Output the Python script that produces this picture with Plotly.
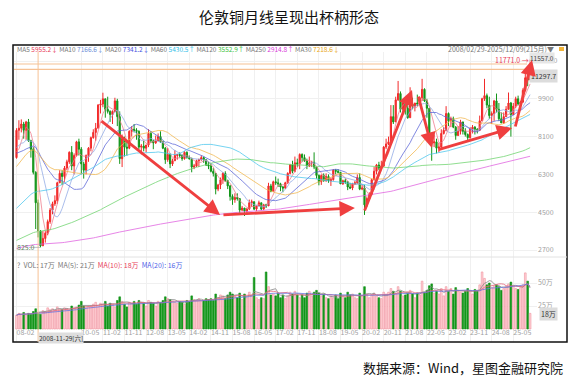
import numpy as np
import pandas as pd
import plotly.graph_objects as go

# ---------------- data ----------------
MONTHS = [str(p) for p in pd.period_range('2008-02', '2025-12', freq='M')]

# monthly closes before the visible window (1987-05 .. 2008-01), used only for the long moving averages
PRE_CLOSE = [1550, 1580, 1700, 1700, 1750, 1900, 2100, 2600,
             2300, 2200, 2200, 2400, 2300, 2400, 2600, 2800, 2900, 3300, 3200, 3400,
             3200, 3100, 3000, 2900, 3100, 3000, 2700, 2900, 3100, 2900, 2600, 2500,
             2300, 2400, 2700, 2900, 2800, 2700, 2900, 3000, 3100, 2700, 2700, 2600,
             2600, 2500, 2500, 2500, 2400, 2300, 2300, 2300, 2400, 2400, 2300, 2200,
             2200, 2250, 2300, 2300, 2300, 2400, 2600, 2500, 2350, 2200, 2150, 2250,
             2300, 2300, 2200, 2000, 1900, 1950, 2050, 1950, 1850, 1650, 1700, 1750,
             1900, 1900, 1950, 1950, 2150, 2450, 2450, 2450, 2500, 2550, 2800, 3000,
             2900, 2900, 2850, 2850, 2850, 3050, 3050, 2950, 2850, 2800, 3000, 2800,
             2550, 2500, 2550, 2600, 2600, 1950, 2000, 2000, 1900, 2050, 2300, 2200,
             2350, 2400, 2400, 2400, 2550, 2650, 2400, 2250, 2150, 2000, 1900, 1750,
             1700, 1650, 1750, 1800, 1700, 1650, 1650, 1600, 1650, 1600, 1550, 1450,
             1450, 1400, 1380, 1450, 1400, 1450, 1650, 1700, 1750, 1750, 1750, 1800,
             1850, 1800, 1750, 1750, 1800, 1750, 1800, 1900, 1950, 1850, 1750, 1800,
             1800, 1750, 1700, 1650, 1600, 1550, 1450, 1450, 1400, 1380, 1500, 1470,
             1550, 1600, 1620, 1580, 1630, 1630, 1500, 1480, 1450, 1520, 1600, 1560,
             1680, 1680, 1590, 1610, 1700, 1650, 1740, 1770, 1790, 2050, 2050, 2300,
             2500, 2800, 3000, 2700, 2800, 2700, 2900, 2850, 3150, 2950, 3250, 3200,
             3200, 3350, 3400, 3350, 3350, 3600, 3800, 3800, 3950, 4100, 4400, 4650,
             4800, 5000, 5500, 7000, 7400, 7300, 7700, 7500, 7600, 7450, 6950, 6300,
             5700, 6400, 6900, 7800, 7700, 7500, 8100, 7500, 8100, 7900, 6900, 6700,
             7000]

OPEN = [7100, 8400, 8500, 8700, 8400, 8800, 7900, 7500, 6400, 4950, 3600,
        2900, 3250, 3500, 4050, 4600, 4900, 5050, 5900, 6350, 6200, 6600, 6900,
        7350, 6700, 7200, 7850, 7500, 6800, 6500, 7200, 7550, 8050, 8300, 8500,
        9600, 9650, 9900, 9400, 9300, 9150, 9300, 9800, 9050, 7050, 8000, 7600,
        7550, 8350, 8450, 8400, 8350, 7600, 7650, 7550, 7700, 8250, 7900, 7800,
        7900, 8100, 7850, 7550, 7000, 7250, 6800, 6950, 7200, 7250, 7200, 7050,
        7350, 7100, 7050, 6650, 6700, 6950, 7000, 7100, 7000, 6750, 6700, 6450,
        6350, 5600, 5800, 6050, 6350, 6000, 5750, 5250, 5100, 5200, 5150, 4600,
        4700, 4550, 4650, 4950, 5000, 4650, 4800, 4950, 4650, 4850, 4800, 5750,
        5500, 5950, 5900, 5850, 5700, 5650, 5900, 6350, 6750, 6450, 6850, 6800,
        7250, 7100, 6950, 6700, 6850, 6880, 6650, 6250, 5950, 6250, 6000, 6200,
        6000, 6050, 6500, 6450, 6400, 5850, 6000, 5950, 5700, 5650, 5850, 5900,
        6150, 5600, 5650, 4850, 5150, 5350, 6050, 6450, 6750, 6600, 6700, 7600,
        7750, 7850, 9050, 8800, 9850, 10150, 9400, 9700, 9450, 9000, 9650, 9550,
        9700, 9650, 9950, 10350, 9800, 9450, 8250, 7800, 7850, 7550, 7600, 8250,
        8400, 9200, 8850, 8950, 8550, 8150, 8350, 8800, 8350, 8200, 8050, 8450,
        8550, 8450, 8400, 8850, 9900, 10050, 9600, 9100, 9200, 9800, 9400, 8950,
        8750, 9050, 9400, 9700, 9150, 9550, 9900, 9650, 9750, 10300, 10900, 10800]

HIGH = [8500, 8880, 8920, 8800, 8850, 8940, 7950, 7600, 6450, 5100, 3650,
        3600, 3600, 4150, 4700, 5000, 5300, 5950, 6500, 6500, 6700, 7000, 7400,
        7650, 7300, 7900, 8000, 7600, 6900, 7250, 7600, 8100, 8450, 8750, 9650,
        9850, 10190, 9900, 10000, 9350, 9350, 9950, 9900, 9300, 8200, 8100, 7950,
        8400, 8600, 8700, 8500, 8400, 7750, 7900, 7700, 8450, 8350, 7950, 8150,
        8250, 8350, 7900, 7600, 7550, 7300, 7050, 7450, 7250, 7350, 7250, 7400,
        7400, 7200, 7100, 6800, 7000, 7050, 7200, 7150, 7000, 6900, 6800, 6600,
        6350, 5850, 6150, 6400, 6450, 6050, 5800, 5350, 5400, 5400, 5150, 4800,
        4700, 4700, 5100, 5100, 5000, 4850, 5050, 4950, 4900, 4900, 5900, 5850,
        6000, 6200, 6100, 5900, 5750, 5950, 6400, 6800, 6950, 7150, 7050, 7300,
        7300, 7250, 7050, 7150, 6950, 7350, 6650, 6300, 6300, 6350, 6350, 6300,
        6150, 6550, 6550, 6550, 6400, 6050, 6100, 5950, 5900, 5900, 6000, 6300,
        6350, 5800, 5800, 5250, 5450, 6100, 6650, 6800, 6900, 6950, 7650, 8000,
        8100, 9600, 9600, 10000, 10750, 10250, 9800, 9800, 9900, 10450, 9950, 9700,
        10100, 10000, 10850, 10400, 9900, 9450, 8250, 8200, 8000, 7800, 8450, 8550,
        9550, 9250, 9050, 9050, 8600, 8600, 8900, 8800, 8500, 8250, 8550, 8650,
        8600, 8500, 9100, 9950, 10850, 10150, 10000, 9300, 9850, 10150, 9700, 9250,
        9250, 9550, 10200, 9750, 9700, 10000, 10050, 9800, 10400, 11200, 11200, 11771]

LOW = [7050, 7950, 8300, 8000, 7950, 7850, 7100, 6300, 3700, 3300, 2825,
       2900, 3050, 3400, 3950, 4400, 4800, 4900, 5900, 5800, 5950, 6500, 6800,
       6500, 6300, 7150, 7200, 6300, 6100, 6300, 6900, 7400, 8000, 7900, 8500,
       9200, 9500, 9000, 9200, 8800, 8700, 9250, 8600, 6800, 6650, 7150, 7200,
       7500, 8100, 8300, 7950, 7500, 7250, 7400, 7350, 7600, 7800, 7500, 7750,
       7900, 7800, 7500, 6800, 6900, 6600, 6700, 6950, 7000, 7100, 6950, 7000,
       7050, 7000, 6400, 6550, 6650, 6650, 6950, 6850, 6700, 6550, 6400, 6200,
       5350, 5500, 5600, 5850, 5950, 5600, 5050, 4850, 4950, 5050, 4450, 4550,
       4320, 4450, 4600, 4750, 4600, 4550, 4800, 4600, 4600, 4700, 4800, 5450,
       5500, 5800, 5700, 5500, 5450, 5600, 5850, 6300, 6350, 6400, 6650, 6550,
       6900, 6900, 6550, 6650, 6650, 6550, 6100, 5780, 5800, 5950, 5950, 5900,
       5750, 6000, 6300, 6350, 5850, 5800, 5850, 5550, 5600, 5550, 5800, 5850,
       5550, 5550, 4370, 4750, 5100, 5300, 6000, 6300, 6500, 6550, 6650, 7500,
       7700, 7850, 8700, 8800, 9800, 9250, 9250, 9150, 8950, 9000, 9400, 9300,
       9550, 9600, 9800, 9750, 9000, 8100, 6950, 7600, 7300, 7350, 7500, 8200,
       8350, 8600, 8550, 8500, 7950, 8150, 8200, 8200, 8100, 7850, 8000, 8250,
       8200, 8250, 8400, 8850, 9800, 9450, 8950, 8700, 8850, 9250, 8850, 8750,
       8700, 9050, 9400, 8100, 9150, 9450, 9600, 9550, 9700, 10250, 10500, 10800]

CLOSE = [8400, 8500, 8700, 8400, 8800, 7900, 7500, 6400, 4950, 3600, 2900,
         3250, 3500, 4050, 4600, 4900, 5050, 5900, 6350, 6200, 6600, 6900, 7350,
         6700, 7200, 7850, 7500, 6800, 6500, 7200, 7550, 8050, 8300, 8500, 9600,
         9650, 9900, 9400, 9300, 9150, 9300, 9800, 9050, 7050, 8000, 7600, 7550,
         8350, 8450, 8400, 8350, 7600, 7650, 7550, 7700, 8250, 7900, 7800, 7900,
         8100, 7850, 7550, 7000, 7250, 6800, 6950, 7200, 7250, 7200, 7050, 7350,
         7100, 7050, 6650, 6700, 6950, 7000, 7100, 7000, 6750, 6700, 6450, 6350,
         5600, 5800, 6050, 6350, 6000, 5750, 5250, 5100, 5200, 5150, 4600, 4700,
         4550, 4650, 4950, 5000, 4650, 4800, 4950, 4650, 4850, 4800, 5750, 5500,
         5950, 5900, 5850, 5700, 5650, 5900, 6350, 6750, 6450, 6850, 6800, 7250,
         7100, 6950, 6700, 6850, 6880, 6650, 6250, 5950, 6250, 6000, 6200, 6000,
         6050, 6500, 6450, 6400, 5850, 6000, 5950, 5700, 5650, 5850, 5900, 6150,
         5600, 5650, 4850, 5150, 5350, 6050, 6450, 6750, 6600, 6700, 7600, 7750,
         7850, 9050, 8800, 9850, 10150, 9400, 9700, 9450, 9000, 9650, 9550, 9700,
         9650, 9950, 10350, 9800, 9450, 8250, 7800, 7850, 7550, 7600, 8250, 8400,
         9200, 8850, 8950, 8550, 8150, 8350, 8800, 8350, 8200, 8050, 8450, 8550,
         8450, 8400, 8850, 9900, 10050, 9600, 9100, 9200, 9800, 9400, 8950, 8750,
         9050, 9400, 9700, 9150, 9550, 9900, 9650, 9750, 10300, 10900, 10800, 11297.7]

# monthly volume, in 万 (10k lots)
VOLUME = [15, 17, 16, 18, 15, 17, 16, 19, 22, 17, 16,
          20, 19, 23, 21, 22, 20, 24, 22, 21, 23, 22, 20,
          25, 23, 24, 26, 30, 25, 23, 24, 25, 27, 29, 24,
          28, 27, 30, 25, 28, 27, 24, 31, 35, 30, 27, 24,
          29, 28, 30, 27, 31, 29, 28, 25, 31, 29, 28, 25,
          30, 29, 31, 35, 33, 32, 30, 29, 28, 30, 29, 27,
          31, 30, 36, 32, 31, 33, 30, 31, 33, 32, 33, 31,
          38, 34, 37, 36, 33, 37, 40, 38, 36, 34, 39, 32,
          38, 34, 40, 37, 56, 34, 32, 34, 33, 62, 46, 37,
          38, 36, 39, 34, 37, 33, 36, 40, 38, 41, 37, 34,
          37, 34, 39, 41, 36, 40, 42, 39, 36, 38, 34, 33,
          36, 34, 37, 33, 39, 36, 34, 40, 37, 38, 34, 33,
          39, 36, 46, 38, 34, 37, 39, 36, 34, 33, 40, 38,
          40, 44, 41, 39, 46, 41, 36, 37, 39, 42, 38, 34,
          39, 37, 52, 40, 42, 47, 49, 39, 41, 38, 44, 36,
          46, 41, 44, 38, 45, 42, 40, 39, 41, 44, 42, 38,
          43, 41, 48, 62, 55, 48, 50, 45, 47, 48, 46, 42,
          44, 46, 49, 51, 47, 44, 43, 45, 48, 61, 52, 17]

PRICE_TICKS = [2700, 4500, 6300, 8100, 9900, 11700]
VOL_TICKS = [0, 25, 50]
VOL_TICK_TEXT = ['0', '25万', '50万']

TICK_IDX = [0, 27, 36, 45, 54, 63, 72, 81, 90, 99, 108, 117, 126, 135, 144,
            153, 162, 171, 180, 189, 198, 207]
TICK_TEXT = ['08-02', '10-05', '11-02', '11-11', '12-08', '13-05', '14-02', '14-11',
             '15-08', '16-05', '17-02', '17-11', '18-08', '19-05', '20-02', '20-11',
             '21-08', '22-05', '23-02', '23-11', '24-08', '25-05']

MA_PERIODS = [5, 10, 20, 30, 60, 120, 250]
MA_COLORS = ['#f07a8a', '#8fa9e6', '#5a64d8', '#f2b64a', '#48c6ee', '#6cd46c', '#e05ee0']

CROSS_IDX = 9          # crosshair month (2008-11)
CROSS_PRICE = 11557.0  # crosshair price line
LAST_PRICE = 11297.7
HIGH_PRICE = 11771.0
LOW_PRICE = 2825.0

# trend arrows (month index, price): start -> end
ARROW_X0 = [34.8, 85.6, 144.8, 167.3, 175.2, 207.7]
ARROW_Y0 = [8890, 4370, 4510, 10080, 7460, 8510]
ARROW_X1 = [84.8, 141.0, 164.8, 173.1, 206.5, 214.8]
ARROW_Y1 = [4370, 4700, 10320, 7560, 8510, 11750]

# ---------------- figure ----------------
n = len(MONTHS)
idx = np.arange(n)

all_close = pd.Series(PRE_CLOSE + CLOSE, dtype=float)
vol = pd.Series(VOLUME, dtype=float)

fig = go.Figure()

for p, c in zip(MA_PERIODS, MA_COLORS):
    ma = all_close.rolling(p).mean().iloc[-n:].values
    fig.add_trace(go.Scatter(x=idx, y=ma, mode='lines', line=dict(color=c, width=1),
                             opacity=0.75, hoverinfo='skip', xaxis='x', yaxis='y'))

fig.add_trace(go.Candlestick(
    x=idx, open=OPEN, high=HIGH, low=LOW, close=CLOSE,
    increasing=dict(line=dict(color='#f22a2a', width=1), fillcolor='#f22a2a'),
    decreasing=dict(line=dict(color='#13961a', width=1), fillcolor='#13961a'),
    whiskerwidth=0, hoverinfo='skip', xaxis='x', yaxis='y'))

up = [c >= o for o, c in zip(OPEN, CLOSE)]
fig.add_trace(go.Bar(
    x=idx, y=VOLUME, width=0.72,
    marker=dict(color=['#ffd3d9' if u else '#13961a' for u in up],
                line=dict(color=['#f0909c' if u else '#13961a' for u in up], width=0.6)),
    hoverinfo='skip', xaxis='x', yaxis='y2'))

for p, c in zip([5, 10, 20], ['#8a8a8a', '#e8647a', '#6b78e0']):
    fig.add_trace(go.Scatter(x=idx, y=vol.rolling(p, min_periods=1).mean(), mode='lines',
                             line=dict(color=c, width=1), opacity=0.8,
                             hoverinfo='skip', xaxis='x', yaxis='y2'))

# pixel geometry helpers (plot area: x 14..537, y 45..342)
L, R, T, B = 14, 537, 45, 342
def px(x):
    return (x - L) / (R - L)
def py(y):
    return (B - y) / (B - T)

P_TOP, P_BOT = 52, 257
def price_at(y):
    return 11700 - (y - 61) * 47.62

VOL0, VSCALE = 329, 0.92

fig.update_layout(
    width=577, height=381,
    margin=dict(l=L, r=577 - R, t=T, b=381 - B),
    paper_bgcolor='white', plot_bgcolor='white', showlegend=False,
    font=dict(family='Noto Sans CJK SC, Noto Sans, sans-serif', size=7, color='#9a9a9a'),
    xaxis=dict(range=[(L - 16.5) / 2.4, (R - 16.5) / 2.4], anchor='y2',
               tickvals=TICK_IDX, ticktext=TICK_TEXT, ticks='', tickangle=0,
               ticklabelposition='inside right', tickfont=dict(size=7, color='#a0a0a0'),
               showgrid=True, gridcolor='#f0f0f0', gridwidth=1,
               zeroline=False, showline=False, rangeslider=dict(visible=False)),
    yaxis=dict(domain=[py(P_BOT), py(P_TOP)], range=[price_at(P_BOT), price_at(P_TOP)],
               side='right', anchor='x', tickvals=PRICE_TICKS,
               ticktext=[str(v) for v in PRICE_TICKS], ticks='',
               tickfont=dict(size=7, color='#a0a0a0'),
               showgrid=True, gridcolor='#f0f0f0', zeroline=False, showline=False),
    yaxis2=dict(domain=[0, py(P_BOT)],
                range=[-(B - VOL0) / VSCALE, (VOL0 - P_BOT) / VSCALE],
                side='right', anchor='x', tickvals=VOL_TICKS, ticktext=VOL_TICK_TEXT,
                ticks='', tickfont=dict(size=7, color='#a0a0a0'),
                showgrid=True, gridcolor='#f0f0f0', zeroline=False, showline=False),
)

shapes = []
shapes.append(dict(type='rect', xref='paper', yref='paper', x0=px(13), x1=px(567),
                   y0=0, y1=1, line=dict(color='#111', width=1.5), layer='above'))
shapes.append(dict(type='line', xref='paper', yref='paper', x0=0, x1=px(567),
                   y0=py(P_BOT), y1=py(P_BOT), line=dict(color='#e2e2e2', width=1)))
shapes.append(dict(type='line', xref='x', yref='paper', x0=CROSS_IDX, x1=CROSS_IDX,
                   y0=0, y1=py(52), line=dict(color='#f6c194', width=1)))
for lvl in [CROSS_PRICE, LAST_PRICE]:
    shapes.append(dict(type='line', xref='paper', yref='y', x0=0, x1=px(527),
                       y0=lvl, y1=lvl, line=dict(color='#f6c194', width=1.2)))
shapes.append(dict(type='line', xref='x', yref='y', x0=5.2, x1=9.8,
                   y0=LOW_PRICE, y1=LOW_PRICE, line=dict(color='#b0b0b0', width=0.8)))
shapes.append(dict(type='rect', xref='paper', yref='paper', x0=px(559), x1=px(564),
                   y0=py(51), y1=py(47), fillcolor='#f2b53a', line=dict(width=0)))
fig.update_layout(shapes=shapes)

ann = []
ann.append(dict(text='伦敦铜月线呈现出杯柄形态', xref='paper', yref='paper',
                x=px(289), y=py(17), showarrow=False, xanchor='center', yanchor='middle',
                font=dict(size=15, color='#111')))
ann.append(dict(text='数据来源：Wind，星图金融研究院', xref='paper', yref='paper',
                x=px(565), y=py(367), showarrow=False, xanchor='right', yanchor='middle',
                font=dict(size=13, color='#111')))

ma_vals = [('MA5', '5955.2↓', '#e8405a'), ('MA10', '7166.6↓', '#6f8fd8'),
           ('MA20', '7341.2↓', '#4452e0'), ('MA60', '5430.5↑', '#2ec0e8'),
           ('MA120', '3552.9↑', '#3cbf3c'), ('MA250', '2914.8↑', '#d83ad8'),
           ('MA30', '7218.6↓', '#e8a820')]
ma_txt = ' '.join(f'<span style="color:#777">{k}</span> <span style="color:{c}">{v}</span>'
                  for k, v, c in ma_vals)
ann.append(dict(text=ma_txt, xref='paper', yref='paper', x=px(15), y=py(49),
                showarrow=False, xanchor='left', yanchor='middle', font=dict(size=6.5)))
ann.append(dict(text='2008/02/29-2025/12/09(215月)▼', xref='paper', yref='paper',
                x=px(556), y=py(49), showarrow=False, xanchor='right', yanchor='middle',
                font=dict(size=7, color='#777')))

vol_txt = ('<span style="color:#777">?  VOL: 17万  MA(5): 21万</span>  '
           '<span style="color:#e8405a">MA(10): 18万</span>  '
           '<span style="color:#4f62e8">MA(20): 16万</span>')
ann.append(dict(text=vol_txt, xref='paper', yref='paper', x=px(15), y=py(265),
                showarrow=False, xanchor='left', yanchor='middle', font=dict(size=7)))

ann.append(dict(text='2008-11-29[六]', xref='x', yref='paper', x=CROSS_IDX, y=py(337.5),
                showarrow=False, xanchor='left', yanchor='middle', bgcolor='#dedede',
                font=dict(size=6.5, color='#333'), borderpad=0))

ann.append(dict(text=f'{CROSS_PRICE:.1f}', xref='paper', yref='y', x=px(529), y=CROSS_PRICE,
                showarrow=False, xanchor='left', yanchor='bottom', bgcolor='#e6e6e6',
                font=dict(size=6.5, color='#444'), borderpad=0))
ann.append(dict(text=f'{LAST_PRICE:.1f}', xref='paper', yref='y', x=px(529), y=LAST_PRICE,
                showarrow=False, xanchor='left', yanchor='top', bgcolor='#dcdcdc',
                font=dict(size=7, color='#333'), borderpad=1))
ann.append(dict(text='18万', xref='paper', yref='y2', x=px(539), y=VOLUME[-1] - 1,
                showarrow=False, xanchor='left', yanchor='middle', bgcolor='#dcdcdc',
                font=dict(size=7, color='#333'), borderpad=1))

ann.append(dict(text=f'{HIGH_PRICE:.1f} →', xref='x', yref='y', x=n - 1 + 0.5, y=HIGH_PRICE,
                showarrow=False, xanchor='right', yanchor='middle',
                font=dict(size=7, color='#e8405a')))
ann.append(dict(text=f'{LOW_PRICE:.1f}'[1:], xref='paper', yref='y', x=px(15), y=LOW_PRICE,
                showarrow=False, xanchor='left', yanchor='middle',
                font=dict(size=7, color='#5a7a5a')))

for x0, y0, x1, y1 in zip(ARROW_X0, ARROW_Y0, ARROW_X1, ARROW_Y1):
    ann.append(dict(x=x1, y=y1, ax=x0, ay=y0, xref='x', yref='y', axref='x', ayref='y',
                    text='', showarrow=True, arrowhead=2, arrowsize=1.1, arrowwidth=2.8,
                    arrowcolor='#ef3f3f'))

fig.update_layout(annotations=ann)

fig.write_html('out.html', config={'displayModeBar': False},
               post_script="document.body.style.margin='0px';")
